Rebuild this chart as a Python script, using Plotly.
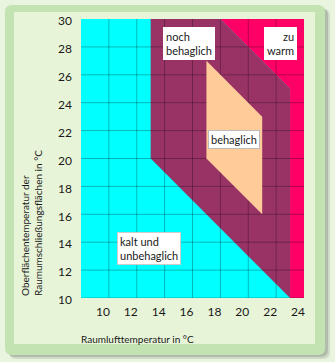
import plotly.graph_objects as go

# ---- data ----
x_ticks = [10, 12, 14, 16, 18, 20, 22, 24]
x_tick_labels = ["10", "12", "14", "16", "18", "20", "22", "24"]
y_ticks = [10, 12, 14, 16, 18, 20, 22, 24, 26, 28, 30]
y_tick_labels = ["10", "12", "14", "16", "18", "20", "22", "24", "26", "28", "30"]
grid_x = [10, 12, 14, 16, 18, 20, 22]
grid_y = [10, 12, 14, 16, 18, 20, 22, 24, 26, 28]

x_min, x_max = 8, 24
y_min, y_max = 10, 30

# zone polygons (air temp, surface temp)
kalt_x = [8, 24, 24, 8]
kalt_y = [10, 10, 30, 30]
noch_x = [13, 18, 23, 23, 13]
noch_y = [30, 30, 25, 10, 20]
warm_x = [18, 24, 24, 23, 23]
warm_y = [30, 30, 10, 10, 25]
beh_x = [17, 21, 21, 17]
beh_y = [27, 23, 16, 20]

W, H = 335, 362
L, R, T, B = 81, 304, 19, 298

def px(xp):
    return (xp - L) / (R - L)

def py(yp):
    return (B - yp) / (B - T)

fig = go.Figure()

def zone(xs, ys, color):
    fig.add_trace(go.Scatter(x=xs + [xs[0]], y=ys + [ys[0]], mode="lines",
                             fill="toself", fillcolor=color,
                             line=dict(width=0, color=color),
                             hoverinfo="skip", showlegend=False))

zone(kalt_x, kalt_y, "#00FFFF")
zone(noch_x, noch_y, "#993366")
zone(warm_x, warm_y, "#FF0066")

# grid lines drawn over the zones
gx, gy = [], []
for v in grid_x:
    gx += [v, v, None]
    gy += [y_min, y_max, None]
for v in grid_y:
    gx += [x_min, x_max, None]
    gy += [v, v, None]
fig.add_trace(go.Scatter(x=gx, y=gy, mode="lines",
                         line=dict(width=1, color="rgba(0,0,0,0.28)"),
                         hoverinfo="skip", showlegend=False))

zone(beh_x, beh_y, "#FFCC99")

font_main = "Lato, 'Open Sans', sans-serif"

# frame shapes (paper coordinates converted from pixels)
def rrect(x0, y0, x1, y1, r):
    X0, X1 = px(x0), px(x1)
    Y0, Y1 = py(y0), py(y1)
    rx = r / (R - L)
    ry = r / (B - T)
    return (f"M {X0+rx},{Y0} L {X1-rx},{Y0} Q {X1},{Y0} {X1},{Y0-ry} "
            f"L {X1},{Y1+ry} Q {X1},{Y1} {X1-rx},{Y1} L {X0+rx},{Y1} "
            f"Q {X0},{Y1} {X0},{Y1+ry} L {X0},{Y0-ry} Q {X0},{Y0} {X0+rx},{Y0} Z")

shapes = [
    dict(type="path", path=rrect(9, 9, 330, 359, 7), xref="paper", yref="paper",
         fillcolor="rgba(90,100,90,0.18)", line=dict(width=0), layer="below"),
    dict(type="path", path=rrect(8, 8, 328, 357, 7), xref="paper", yref="paper",
         fillcolor="rgba(90,100,90,0.25)", line=dict(width=0), layer="below"),
    dict(type="path", path=rrect(5, 5, 325, 355, 7), xref="paper", yref="paper",
         fillcolor="#c3e3b3", line=dict(width=0), layer="below"),
    dict(type="rect", x0=px(14), x1=px(315), y0=py(12), y1=py(344),
         xref="paper", yref="paper", fillcolor="#e7f4d8", line=dict(width=0),
         layer="below"),
]

def box(text, x, y, xanchor, yanchor, align, border):
    return dict(text=text, x=x, y=y, xref="x", yref="y", xanchor=xanchor,
                yanchor=yanchor, align=align, showarrow=False,
                bgcolor="white", bordercolor=border, borderwidth=1, borderpad=2,
                font=dict(family=font_main, size=11, color="#1a1a1a"))

annotations = [
    box("noch<br>behaglich", 13.85, 29.4, "left", "top", "left", "white"),
    box("zu<br>warm", 23.5, 29.4, "right", "top", "right", "white"),
    box("behaglich", 18.95, 21.35, "center", "middle", "center", "#bbbbbb"),
    box("kalt und<br>unbehaglich", 10.55, 14.75, "left", "top", "left", "#cccccc"),
    dict(text="Oberflächentemperatur der<br>Raumumschließungsflächen in °C",
         textangle=-90, x=px(31), y=0, xref="paper", yref="paper",
         xanchor="center", yanchor="bottom", align="left", showarrow=False,
         font=dict(family=font_main, size=10, color="#1a1a1a")),
    dict(text="Raumlufttemperatur in °C", x=px(79), y=py(339),
         xref="paper", yref="paper", xanchor="left", yanchor="middle",
         showarrow=False, font=dict(family=font_main, size=10, color="#1a1a1a")),
]

fig.update_layout(
    width=W, height=H,
    margin=dict(l=L, r=W - R, t=T, b=H - B),
    paper_bgcolor="#eaf5e0",
    plot_bgcolor="rgba(0,0,0,0)",
    shapes=shapes, annotations=annotations,
    showlegend=False,
    xaxis=dict(range=[x_min, x_max], tickvals=x_ticks, ticktext=x_tick_labels,
               showgrid=False, zeroline=False, showline=False, ticks="",
               ticklabelshift=-6, ticklabelstandoff=5,
               tickfont=dict(family=font_main, size=12, color="#1a1a1a"),
               fixedrange=True),
    yaxis=dict(range=[y_min, y_max], tickvals=y_ticks, ticktext=y_tick_labels,
               showgrid=False, zeroline=False, showline=False, ticks="",
               ticklabelshift=2, ticklabelstandoff=8,
               tickfont=dict(family=font_main, size=12, color="#1a1a1a"),
               fixedrange=True),
)

fig.write_html("out.html")
